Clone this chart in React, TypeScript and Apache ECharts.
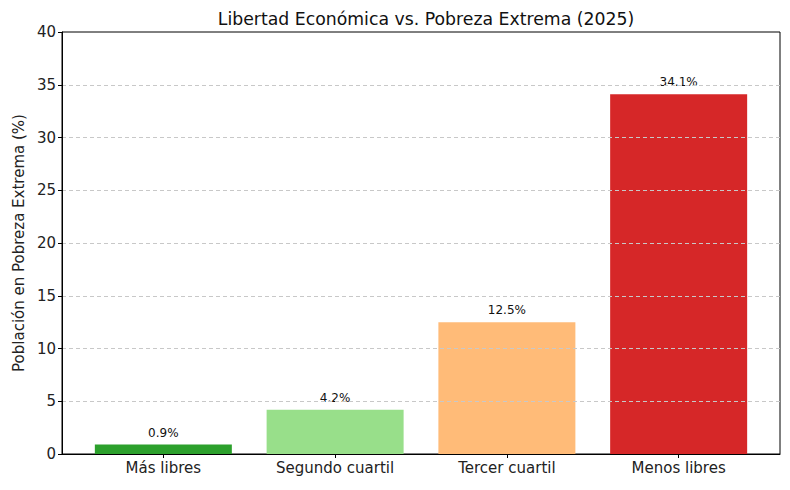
import React, { useEffect, useRef } from "react";
import * as echarts from "echarts";

const categories = ["Más libres", "Segundo cuartil", "Tercer cuartil", "Menos libres"];
const positions = [0, 1, 2, 3];
const values = [0.9, 4.2, 12.5, 34.1];
const colors = ["#2ca02c", "#98df8a", "#ffbb78", "#d62728"];
const titleText = "Libertad Económica vs. Pobreza Extrema (2025)";
const yName = "Población en Pobreza Extrema (%)";

export default function App() {
  const ref = useRef<HTMLDivElement>(null);
  useEffect(() => {
    const chart = echarts.init(ref.current!, null, { renderer: "svg" });
    const font = "'DejaVu Sans', 'Open Sans', sans-serif";
    chart.setOption({
      animation: false,
      textStyle: { fontFamily: font },
      title: {
        text: titleText,
        left: 413,
        textAlign: "center",
        top: -3,
        textStyle: { fontSize: 17.3, fontWeight: "normal", color: "#111", fontFamily: font },
      },
      grid: {
        left: 54, top: 24, right: 2, bottom: 28,
        outerBoundsMode: "none",
        containLabel: false,
        show: true, borderColor: "#000", borderWidth: 1,
      },
      xAxis: {
        type: "value",
        min: -0.59,
        max: 3.59,
        z: 6,
        splitLine: { show: false },
        axisLine: { show: true, onZero: false, lineStyle: { color: "#000" } },
        axisTick: { show: true, customValues: positions, length: 4, lineStyle: { color: "#000" } },
        axisLabel: {
          customValues: positions,
          fontSize: 15,
          color: "#222",
          margin: 6,
          formatter: (v: number) => categories[Math.round(v)] ?? "",
        },
      },
      yAxis: {
        type: "value",
        min: 0, max: 40, interval: 5,
        z: 5,
        name: yName,
        nameLocation: "middle",
        nameGap: 36,
        nameTextStyle: { fontSize: 15, color: "#222" },
        axisLine: { show: true, onZero: false, lineStyle: { color: "#000" } },
        axisTick: { show: true, length: 4, lineStyle: { color: "#000" } },
        axisLabel: { fontSize: 15, color: "#222", margin: 6 },
        splitLine: { show: true, showMinLine: false, showMaxLine: false, lineStyle: { color: "#c8c8c8", type: [4, 3] } },
      },
      series: [
        {
          type: "bar",
          z: 2,
          barWidth: 137,
          data: values.map((v, i) => ({ value: [positions[i], v], itemStyle: { color: colors[i] } })),
          label: {
            show: true,
            position: "top",
            distance: 6,
            fontSize: 12,
            color: "#111",
            formatter: (p: any) => `${p.value[1]}%`,
          },
        },
      ],
    });
    return () => chart.dispose();
  }, []);
  return <div ref={ref} style={{ width: 774, height: 474 }} />;
}
